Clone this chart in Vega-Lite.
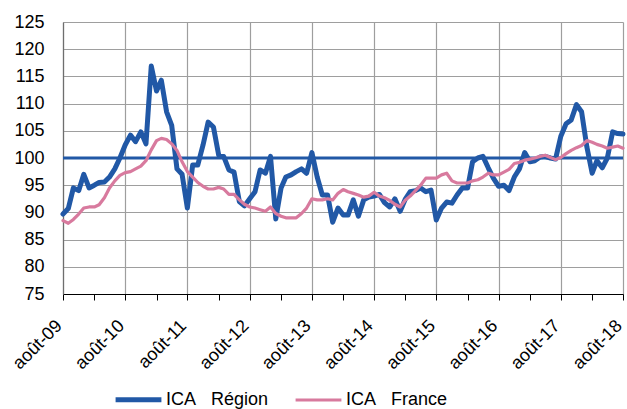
{
  "$schema": "https://vega.github.io/schema/vega-lite/v6.json",
  "width": 560,
  "height": 272,
  "autosize": {"type": "none"},
  "padding": {"left": 63, "top": 22, "right": 4, "bottom": 115},
  "background": "white",
  "config": {
    "font": "Liberation Sans",
    "view": {"stroke": null},
    "axis": {"labelFont": "Liberation Sans", "labelColor": "#000000"},
    "axisY": {
      "title": null,
      "values": [75, 80, 85, 90, 95, 100, 105, 110, 115, 120, 125],
      "labelFontSize": 18,
      "labelPadding": 19,
      "labelOverlap": false,
      "labelBound": false,
      "labelFlush": false,
      "ticks": false,
      "domainColor": "#6E6E6E",
      "domainWidth": 1.2,
      "grid": true,
      "gridColor": "#9E9E9E",
      "gridWidth": 1.2
    }
  },
  "data": {
    "values": [
      {"date": "2009-08-01", "region": 89.7, "france": 88.5},
      {"date": "2009-09-01", "region": 90.7, "france": 88.0},
      {"date": "2009-10-01", "region": 94.5, "france": 88.7},
      {"date": "2009-11-01", "region": 94.0, "france": 89.7},
      {"date": "2009-12-01", "region": 97.0, "france": 90.8},
      {"date": "2010-01-01", "region": 94.5, "france": 91.0},
      {"date": "2010-02-01", "region": 95.0, "france": 91.0},
      {"date": "2010-03-01", "region": 95.5, "france": 91.4},
      {"date": "2010-04-01", "region": 95.6, "france": 92.7},
      {"date": "2010-05-01", "region": 96.5, "france": 94.5},
      {"date": "2010-06-01", "region": 98.0, "france": 95.8},
      {"date": "2010-07-01", "region": 100.0, "france": 96.8},
      {"date": "2010-08-01", "region": 102.4, "france": 97.3},
      {"date": "2010-09-01", "region": 104.2, "france": 97.5},
      {"date": "2010-10-01", "region": 103.0, "france": 98.0},
      {"date": "2010-11-01", "region": 104.8, "france": 98.5},
      {"date": "2010-12-01", "region": 102.6, "france": 99.5},
      {"date": "2011-01-01", "region": 116.9, "france": 101.5},
      {"date": "2011-02-01", "region": 112.3, "france": 103.2},
      {"date": "2011-03-01", "region": 114.3, "france": 103.6},
      {"date": "2011-04-01", "region": 108.5, "france": 103.4},
      {"date": "2011-05-01", "region": 106.0, "france": 102.6},
      {"date": "2011-06-01", "region": 98.0, "france": 101.4},
      {"date": "2011-07-01", "region": 97.0, "france": 99.3},
      {"date": "2011-08-01", "region": 90.8, "france": 97.5},
      {"date": "2011-09-01", "region": 98.7, "france": 96.5},
      {"date": "2011-10-01", "region": 98.7, "france": 95.5},
      {"date": "2011-11-01", "region": 102.4, "france": 94.8},
      {"date": "2011-12-01", "region": 106.6, "france": 94.3},
      {"date": "2012-01-01", "region": 105.7, "france": 94.3},
      {"date": "2012-02-01", "region": 100.5, "france": 94.6},
      {"date": "2012-03-01", "region": 100.3, "france": 94.3},
      {"date": "2012-04-01", "region": 97.8, "france": 93.3},
      {"date": "2012-05-01", "region": 97.4, "france": 93.3},
      {"date": "2012-06-01", "region": 92.0, "france": 92.3},
      {"date": "2012-07-01", "region": 91.2, "france": 91.5},
      {"date": "2012-08-01", "region": 92.5, "france": 91.0},
      {"date": "2012-09-01", "region": 93.8, "france": 90.8},
      {"date": "2012-10-01", "region": 97.8, "france": 90.5},
      {"date": "2012-11-01", "region": 97.2, "france": 90.2},
      {"date": "2012-12-01", "region": 100.3, "france": 91.0},
      {"date": "2013-01-01", "region": 88.8, "france": 89.8},
      {"date": "2013-02-01", "region": 94.5, "france": 89.3},
      {"date": "2013-03-01", "region": 96.5, "france": 89.0},
      {"date": "2013-04-01", "region": 96.9, "france": 89.0},
      {"date": "2013-05-01", "region": 97.5, "france": 89.0},
      {"date": "2013-06-01", "region": 98.0, "france": 89.8},
      {"date": "2013-07-01", "region": 97.2, "france": 90.8},
      {"date": "2013-08-01", "region": 101.0, "france": 92.5},
      {"date": "2013-09-01", "region": 96.5, "france": 92.3},
      {"date": "2013-10-01", "region": 93.2, "france": 92.3},
      {"date": "2013-11-01", "region": 93.2, "france": 92.5},
      {"date": "2013-12-01", "region": 88.2, "france": 92.3},
      {"date": "2014-01-01", "region": 90.8, "france": 93.5},
      {"date": "2014-02-01", "region": 89.5, "france": 94.2},
      {"date": "2014-03-01", "region": 89.5, "france": 93.8},
      {"date": "2014-04-01", "region": 92.3, "france": 93.5},
      {"date": "2014-05-01", "region": 89.3, "france": 93.2},
      {"date": "2014-06-01", "region": 92.3, "france": 92.8},
      {"date": "2014-07-01", "region": 92.8, "france": 93.0},
      {"date": "2014-08-01", "region": 93.0, "france": 93.7},
      {"date": "2014-09-01", "region": 93.3, "france": 93.0},
      {"date": "2014-10-01", "region": 91.8, "france": 92.7},
      {"date": "2014-11-01", "region": 91.0, "france": 92.2},
      {"date": "2014-12-01", "region": 92.5, "france": 91.5},
      {"date": "2015-01-01", "region": 90.2, "france": 91.0},
      {"date": "2015-02-01", "region": 92.5, "france": 92.3},
      {"date": "2015-03-01", "region": 93.8, "france": 93.0},
      {"date": "2015-04-01", "region": 94.0, "france": 94.0},
      {"date": "2015-05-01", "region": 94.5, "france": 95.0},
      {"date": "2015-06-01", "region": 93.8, "france": 96.3},
      {"date": "2015-07-01", "region": 94.1, "france": 96.3},
      {"date": "2015-08-01", "region": 88.6, "france": 96.3},
      {"date": "2015-09-01", "region": 90.8, "france": 96.9},
      {"date": "2015-10-01", "region": 91.9, "france": 97.2},
      {"date": "2015-11-01", "region": 91.7, "france": 95.8},
      {"date": "2015-12-01", "region": 93.2, "france": 95.4},
      {"date": "2016-01-01", "region": 94.5, "france": 95.4},
      {"date": "2016-02-01", "region": 94.5, "france": 95.4},
      {"date": "2016-03-01", "region": 99.3, "france": 95.8},
      {"date": "2016-04-01", "region": 100.0, "france": 96.0},
      {"date": "2016-05-01", "region": 100.3, "france": 96.5},
      {"date": "2016-06-01", "region": 98.2, "france": 97.2},
      {"date": "2016-07-01", "region": 96.3, "france": 96.9},
      {"date": "2016-08-01", "region": 94.8, "france": 96.9},
      {"date": "2016-09-01", "region": 95.0, "france": 97.4},
      {"date": "2016-10-01", "region": 94.0, "france": 97.9},
      {"date": "2016-11-01", "region": 96.5, "france": 99.0},
      {"date": "2016-12-01", "region": 98.0, "france": 99.2},
      {"date": "2017-01-01", "region": 101.0, "france": 99.6},
      {"date": "2017-02-01", "region": 99.3, "france": 99.8},
      {"date": "2017-03-01", "region": 99.5, "france": 100.0},
      {"date": "2017-04-01", "region": 100.2, "france": 100.3},
      {"date": "2017-05-01", "region": 100.3, "france": 100.5},
      {"date": "2017-06-01", "region": 100.0, "france": 100.1},
      {"date": "2017-07-01", "region": 99.8, "france": 99.7},
      {"date": "2017-08-01", "region": 104.0, "france": 100.1},
      {"date": "2017-09-01", "region": 106.3, "france": 100.8},
      {"date": "2017-10-01", "region": 107.0, "france": 101.4},
      {"date": "2017-11-01", "region": 109.8, "france": 101.9},
      {"date": "2017-12-01", "region": 108.5, "france": 102.3},
      {"date": "2018-01-01", "region": 102.0, "france": 103.2},
      {"date": "2018-02-01", "region": 97.2, "france": 102.9},
      {"date": "2018-03-01", "region": 99.5, "france": 102.5},
      {"date": "2018-04-01", "region": 98.2, "france": 102.2},
      {"date": "2018-05-01", "region": 100.0, "france": 101.8},
      {"date": "2018-06-01", "region": 104.8, "france": 102.0},
      {"date": "2018-07-01", "region": 104.5, "france": 102.2},
      {"date": "2018-08-01", "region": 104.4, "france": 101.8}
    ]
  },
  "transform": [
    {"fold": ["region", "france"], "as": ["serie", "value"]}
  ],
  "layer": [
    {
      "mark": {"type": "rule", "color": "#2158A6", "strokeWidth": 3},
      "data": {"values": [{"ref": 100}]},
      "encoding": {
        "y": {
          "field": "ref",
          "type": "quantitative",
          "scale": {"domain": [75, 125], "nice": false, "zero": false},
          "axis": {"title": null, "labelOverlap": false, "values": [75, 80, 85, 90, 95, 100, 105, 110, 115, 120, 125]}
        }
      }
    },
    {
      "mark": {"type": "line", "interpolate": "linear", "strokeJoin": "round", "strokeCap": "round"},
      "encoding": {
        "x": {
          "field": "date",
          "type": "temporal",
          "scale": {
            "type": "utc",
            "domain": [
              {"year": 2009, "month": 8, "date": 1, "utc": true},
              {"year": 2018, "month": 8, "date": 1, "utc": true}
            ],
            "nice": false
          },
          "axis": {
            "title": null,
            "values": [
              {"year": 2009, "month": 8, "date": 1, "utc": true},
              {"year": 2010, "month": 2, "date": 1, "utc": true},
              {"year": 2010, "month": 8, "date": 1, "utc": true},
              {"year": 2011, "month": 2, "date": 1, "utc": true},
              {"year": 2011, "month": 8, "date": 1, "utc": true},
              {"year": 2012, "month": 2, "date": 1, "utc": true},
              {"year": 2012, "month": 8, "date": 1, "utc": true},
              {"year": 2013, "month": 2, "date": 1, "utc": true},
              {"year": 2013, "month": 8, "date": 1, "utc": true},
              {"year": 2014, "month": 2, "date": 1, "utc": true},
              {"year": 2014, "month": 8, "date": 1, "utc": true},
              {"year": 2015, "month": 2, "date": 1, "utc": true},
              {"year": 2015, "month": 8, "date": 1, "utc": true},
              {"year": 2016, "month": 2, "date": 1, "utc": true},
              {"year": 2016, "month": 8, "date": 1, "utc": true},
              {"year": 2017, "month": 2, "date": 1, "utc": true},
              {"year": 2017, "month": 8, "date": 1, "utc": true},
              {"year": 2018, "month": 2, "date": 1, "utc": true},
              {"year": 2018, "month": 8, "date": 1, "utc": true}
            ],
            "labelExpr": "utcmonth(datum.value) == 7 ? 'août-' + utcFormat(datum.value, '%y') : ''",
            "labelAngle": -45,
            "labelAlign": "right",
            "labelBaseline": "middle",
            "labelFontSize": 18,
            "labelPadding": 23,
            "labelOffset": -4,
            "labelOverlap": false,
            "labelBound": false,
            "labelFlush": false,
            "domainColor": "#000000",
            "domainWidth": 1,
            "tickColor": "#000000",
            "tickSize": 6,
            "tickWidth": 1,
            "grid": true,
            "gridColor": "#9E9E9E",
            "gridWidth": 1.2,
            "gridOpacity": {"condition": {"test": "utcmonth(datum.value) == 7", "value": 1}, "value": 0}
          }
        },
        "y": {
          "field": "value",
          "type": "quantitative",
          "scale": {"domain": [75, 125], "nice": false, "zero": false},
          "axis": {"title": null, "labelOverlap": false, "values": [75, 80, 85, 90, 95, 100, 105, 110, 115, 120, 125]}
        },
        "color": {
          "field": "serie",
          "type": "nominal",
          "scale": {"domain": ["region", "france"], "range": ["#2158A6", "#D87A9E"]},
          "legend": {
            "title": null,
            "orient": "none",
            "legendX": 50,
            "legendY": 352,
            "direction": "horizontal",
            "columns": 2,
            "columnPadding": 20,
            "symbolType": "stroke",
            "symbolSize": 2100,
            "symbolStrokeWidth": 5,
            "labelFontSize": 18,
            "labelFont": "Liberation Sans",
            "labelColor": "#000000",
            "labelOffset": 2,
            "labelExpr": "datum.value == 'region' ? 'ICA\u00a0\u00a0\u00a0Région' : 'ICA\u00a0\u00a0\u00a0France'"
          }
        },
        "strokeWidth": {
          "field": "serie",
          "type": "nominal",
          "scale": {"domain": ["region", "france"], "range": [5, 3.2]},
          "legend": null
        },
        "order": {"field": "serie", "sort": "ascending"}
      }
    }
  ]
}
